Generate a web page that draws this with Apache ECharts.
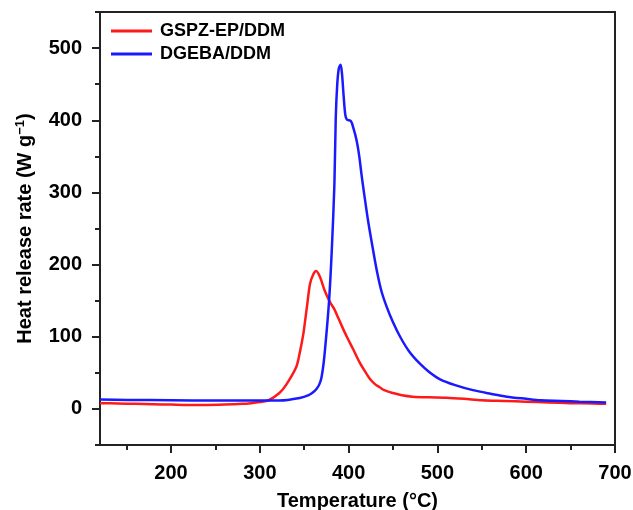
<!DOCTYPE html>
<html>
<head>
<meta charset="utf-8">
<title>Heat release rate</title>
<script src="https://cdn.jsdelivr.net/npm/echarts@6/dist/echarts.min.js"></script>
<style>
  * { margin: 0; padding: 0; }
  body { background: #fff; }
  #chart { width: 633px; height: 510px; }
</style>
</head>
<body>
<div id="chart"></div>
<script>
// GSPZ-EP/DDM (red)
var redT = [120, 140, 160, 180, 200, 220, 240, 260, 280, 290, 300, 310, 322, 330, 341, 345, 349, 353, 356.5, 360, 363.5, 368, 373, 379, 384, 388, 393, 398, 405, 413, 420, 425, 430, 435, 440, 450, 460, 472, 490, 510, 530, 550, 575, 600, 625, 650, 675, 690];
var redV = [8, 7.5, 7, 6.5, 6, 5.5, 5.5, 6, 7, 8, 9.5, 12, 22, 34, 58, 78, 104, 141, 173, 186, 191, 182, 164, 148, 138, 127, 113, 100, 83, 63, 49, 40, 34, 30, 26, 22, 19, 17, 16, 15.5, 14, 12, 11, 10, 9, 8, 7.5, 7];

// DGEBA/DDM (blue)
var blueT = [120, 150, 200, 250, 300, 322, 345, 355, 360, 364, 367, 369.5, 372, 375, 378, 381, 384, 385.5, 387.2, 389, 391, 392.5, 394.3, 396.2, 398, 402.5, 405.4, 409, 412, 414.5, 417.5, 422, 427, 432, 437, 443, 450, 458, 468, 480, 490, 503, 520, 540, 560, 578, 600, 616, 640, 660, 690];
var blueV = [13, 12.5, 12, 11.5, 11.5, 11.5, 15, 19, 23, 28, 34, 44, 65, 104, 150, 219, 312, 403, 450, 472, 477, 465, 435, 408, 401, 399, 389, 372, 350, 325, 298, 260, 224, 190, 163, 141, 120, 100, 80, 63, 52, 41, 33, 26, 21, 17, 14, 12, 11, 10, 9];

var xMajor = [200, 300, 400, 500, 600, 700];
var xMinor = [150, 250, 350, 450, 550, 650];
var yMajor = [0, 100, 200, 300, 400, 500];
var yMinor = [-50, 50, 150, 250, 350, 450, 550];

function pairs(t, v) {
  var out = [];
  for (var i = 0; i < t.length; i++) out.push([t[i], v[i]]);
  return out;
}

var chart = echarts.init(document.getElementById('chart'));
var font = 'Liberation Sans, Arial';
var lab = { fontFamily: font, fontWeight: 'bold', fontSize: 20, color: '#000' };
var ttl = { fontFamily: font, fontWeight: 'bold', fontSize: 20, color: '#000' };
var axLine = { show: true, onZero: false, lineStyle: { color: '#222', width: 2 } };

chart.setOption({
  animation: false,
  grid: {
    left: 100, right: 18, top: 12, bottom: 65,
    outerBoundsMode: 'none', containLabel: false,
    show: true, borderColor: '#222', borderWidth: 2
  },
  legend: {
    orient: 'vertical', left: 106, top: 17,
    icon: 'rect', itemWidth: 41, itemHeight: 3, itemGap: 5,
    textStyle: { fontFamily: font, fontWeight: 'bold', fontSize: 18, color: '#000', padding: [0, 0, 0, 3] },
    data: ['GSPZ-EP/DDM', 'DGEBA/DDM']
  },
  xAxis: [{
    type: 'value', min: 120, max: 700,
    name: 'Temperature (°C)', nameLocation: 'middle', nameGap: 46,
    nameTextStyle: ttl,
    axisLine: axLine,
    splitLine: { show: false },
    axisTick: { show: true, length: 8, customValues: xMajor, lineStyle: { color: '#222', width: 2 } },
    axisLabel: Object.assign({ customValues: xMajor, margin: 18 }, lab)
  }, {
    type: 'value', min: 120, max: 700, position: 'bottom',
    axisLine: { show: false, onZero: false }, splitLine: { show: false },
    axisTick: { show: true, length: 5, customValues: xMinor, lineStyle: { color: '#222', width: 2 } },
    axisLabel: { show: false }
  }],
  yAxis: [{
    type: 'value', min: -50, max: 550,
    name: 'Heat release rate (W g{sup|−1})', nameLocation: 'middle', nameGap: 64,
    nameTextStyle: Object.assign({ rich: { sup: { fontFamily: font, fontWeight: 'bold', fontSize: 13, verticalAlign: 'top', padding: [0, 0, 9, 0], color: '#000' } } }, ttl),
    axisLine: axLine,
    splitLine: { show: false },
    axisTick: { show: true, length: 8, customValues: yMajor, lineStyle: { color: '#222', width: 2 } },
    axisLabel: Object.assign({ customValues: yMajor, margin: 18 }, lab)
  }, {
    type: 'value', min: -50, max: 550, position: 'left',
    axisLine: { show: false, onZero: false }, splitLine: { show: false },
    axisTick: { show: true, length: 5, customValues: yMinor, lineStyle: { color: '#222', width: 2 } },
    axisLabel: { show: false }
  }],
  series: [{
    name: 'GSPZ-EP/DDM', type: 'line', xAxisIndex: 0, yAxisIndex: 0,
    data: pairs(redT, redV), showSymbol: false, symbol: 'none',
    smooth: 0.3,
    lineStyle: { color: '#ff1a1a', width: 2.5 }, itemStyle: { color: '#ff1a1a' }
  }, {
    name: 'DGEBA/DDM', type: 'line', xAxisIndex: 0, yAxisIndex: 0,
    data: pairs(blueT, blueV), showSymbol: false, symbol: 'none',
    smooth: 0.3,
    lineStyle: { color: '#1a1aff', width: 2.5 }, itemStyle: { color: '#1a1aff' }
  }]
});
</script>
</body>
</html>
